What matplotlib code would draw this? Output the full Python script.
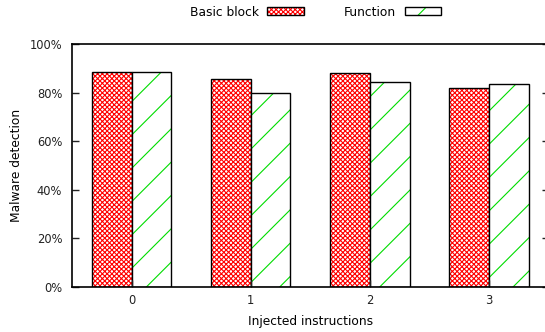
import numpy as np
import matplotlib
matplotlib.use('agg')
import matplotlib.pyplot as plt
from matplotlib.patches import Patch
from matplotlib.legend_handler import HandlerTuple
from matplotlib.ticker import PercentFormatter

categories = ['0', '1', '2', '3']
basic_block = [88.4, 85.5, 88.2, 82.0]
function = [88.4, 79.8, 84.5, 83.5]
y_ticks = [0, 20, 40, 60, 80, 100]

plt.rcParams['font.family'] = 'DejaVu Sans'
plt.rcParams['font.size'] = 8.8
plt.rcParams['hatch.linewidth'] = 0.8

RED_HATCH = 'xxxxxxx'
GREEN_HATCH = '/'
GREEN = '#00dd00'

fig = plt.figure(figsize=(5.45, 3.32), dpi=100)
ax = fig.add_axes([72 / 545, 45 / 332, 476.7 / 545, 243 / 332])

x = np.arange(len(categories))
w = 0.333

# hatch layer first, then a black outline over it
ax.bar(x - w / 2, basic_block, w, color='white', edgecolor='red',
       hatch=RED_HATCH, linewidth=0)
ax.bar(x - w / 2, basic_block, w, fill=False, edgecolor='black', linewidth=1)
ax.bar(x + w / 2, function, w, color='white', edgecolor=GREEN,
       hatch=GREEN_HATCH, linewidth=0)
ax.bar(x + w / 2, function, w, fill=False, edgecolor='black', linewidth=1)

ax.set_xlim(-0.5, 3.5)
ax.set_ylim(0, 100)
ax.set_xticks(x)
ax.set_xticklabels(categories)
ax.set_yticks(y_ticks)
ax.yaxis.set_major_formatter(PercentFormatter(decimals=0))
ax.tick_params(axis='y', direction='in', length=5, width=1, pad=7,
               right=True, colors='#222222', labelsize=8.3)
ax.tick_params(axis='x', direction='in', length=5, width=1, pad=5,
               colors='#222222', labelsize=8.3)
for s in ax.spines.values():
    s.set_linewidth(1.2)

ax.set_ylabel('Malware detection', labelpad=5)
ax.set_xlabel('Injected instructions', labelpad=6)

h1 = (Patch(facecolor='white', edgecolor='red', hatch=RED_HATCH, linewidth=0),
      Patch(fill=False, edgecolor='black', linewidth=1))
h2 = (Patch(facecolor='white', edgecolor=GREEN, hatch=GREEN_HATCH, linewidth=0),
      Patch(fill=False, edgecolor='black', linewidth=1))
fig.legend([h1, h2], ['Basic block', 'Function'], ncol=2,
           handler_map={tuple: HandlerTuple(ndivide=1, pad=0)},
           loc='center', bbox_to_anchor=(315.5 / 545, 1 - 12 / 332),
           frameon=False, markerfirst=False, handlelength=3.0,
           handleheight=0.65, columnspacing=3.3, handletextpad=0.7)

fig.savefig('out.png', dpi=100)
